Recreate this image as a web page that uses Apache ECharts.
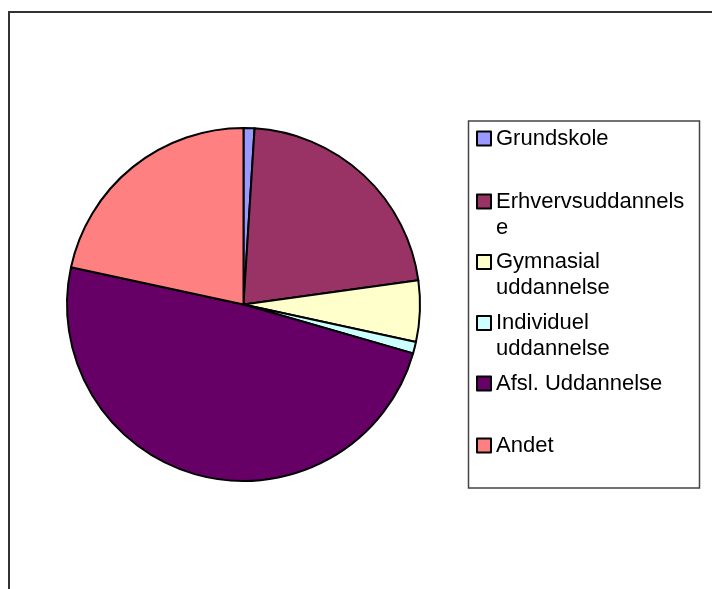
<!DOCTYPE html>
<html>
<head>
<meta charset="utf-8">
<script src="https://cdn.jsdelivr.net/npm/echarts@6/dist/echarts.min.js"></script>
<style>
html,body{margin:0;padding:0;background:#fff;}
#chart{width:712px;height:589px;}
</style>
</head>
<body>
<div id="chart"></div>
<script>
// Data
const categories = ['Grundskole', 'Erhvervsuddannelse', 'Gymnasial uddannelse', 'Individuel uddannelse', 'Afsl. Uddannelse', 'Andet'];
const values = [1.0, 21.8, 5.6, 1.05, 48.9, 21.6];
const legendLabels = ['Grundskole', 'Erhvervsuddannels\ne', 'Gymnasial\nuddannelse', 'Individuel\nuddannelse', 'Afsl. Uddannelse', 'Andet'];
const colors = ['#9999FF', '#993366', '#FFFFCC', '#CCFFFF', '#660066', '#FF8080'];

// Layout: centre y of the first text line of each legend entry
const legendLineY = [138.5, 201.5, 262, 323, 383.5, 445.5];
const LINE_H = 26;

const chart = echarts.init(document.getElementById('chart'), null, {renderer: 'canvas'});

const legends = categories.map(function (name, i) {
  const multi = legendLabels[i].indexOf('\n') >= 0;
  const top = legendLineY[i] - (multi ? 1.5 * LINE_H : 0.5 * LINE_H);
  return {
    show: true,
    data: [name],
    orient: 'vertical',
    left: 476,
    top: top,
    padding: 0,
    itemGap: 0,
    icon: 'rect',
    itemWidth: 14,
    itemHeight: 14,
    itemStyle: {borderColor: '#000', borderWidth: 2},
    selectedMode: false,
    formatter: function () {
      return multi ? '\n' + legendLabels[i] : legendLabels[i];
    },
    textStyle: {
      fontFamily: 'Liberation Sans, Arial, sans-serif',
      fontSize: 22,
      lineHeight: LINE_H,
      color: '#000'
    }
  };
});

const option = {
  backgroundColor: '#fff',
  animation: false,
  color: colors,
  legend: legends,
  graphic: [
    {
      type: 'rect',
      silent: true,
      shape: {x: 9, y: 12, width: 900, height: 800},
      style: {fill: 'none', stroke: '#333', lineWidth: 2}
    },
    {
      type: 'rect',
      silent: true,
      shape: {x: 468.5, y: 121, width: 231, height: 367},
      style: {fill: 'none', stroke: '#444', lineWidth: 1.5}
    }
  ],
  series: [{
    type: 'pie',
    center: [243.5, 304.5],
    radius: 176.5,
    startAngle: 90,
    clockwise: true,
    label: {show: false},
    labelLine: {show: false},
    emphasis: {disabled: true},
    itemStyle: {borderColor: '#000', borderWidth: 2},
    data: categories.map(function (c, i) {
      return {name: c, value: values[i]};
    })
  }]
};
chart.setOption(option);
</script>
</body>
</html>
